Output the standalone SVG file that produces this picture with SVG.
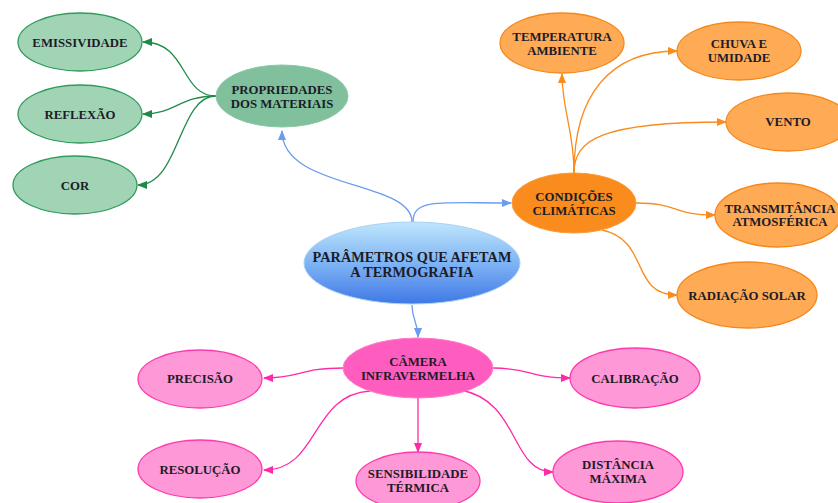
<svg xmlns="http://www.w3.org/2000/svg" width="838" height="503" viewBox="0 0 838 503">
<style>
text{font-family:"Liberation Serif","Times New Roman",serif;font-weight:bold;font-size:12.8px;fill:#1c1c28;text-anchor:middle}
text.big{font-size:14.3px}
.g{fill:#a0d4b4;stroke:#2f9a5c;stroke-width:1.3}
.gm{fill:#80c09c;stroke:#8cc8a6;stroke-width:1}
.o{fill:#ffaa55;stroke:#f5881c;stroke-width:1.3}
.om{fill:#f98c1c;stroke:#fa9a3a;stroke-width:1}
.p{fill:#ff98d6;stroke:#ff3aae;stroke-width:1.3}
.pm{fill:#ff5cc0;stroke:#ff7ccc;stroke-width:1}
.c{fill:none;stroke-width:1.3}
.cg{stroke:#1f8a48;marker-end:url(#ag)}
.cb{stroke:#6a9cf0;marker-end:url(#ab)}
.co{stroke:#f98c1c;marker-end:url(#ao)}
.cp{stroke:#ff2aa8;marker-end:url(#ap)}
</style>
<defs>
<linearGradient id="gb" x1="0" y1="0" x2="0" y2="1">
<stop offset="0" stop-color="#bfe6fc"/>
<stop offset="0.5" stop-color="#7fb4f4"/>
<stop offset="1" stop-color="#3f78e6"/>
</linearGradient>
<marker id="ag" markerWidth="10" markerHeight="8" refX="9" refY="4" orient="auto" markerUnits="userSpaceOnUse"><path d="M0,0 L10,4 L0,8 Z" fill="#1f8a48"/></marker>
<marker id="ab" markerWidth="10" markerHeight="8" refX="9" refY="4" orient="auto" markerUnits="userSpaceOnUse"><path d="M0,0 L10,4 L0,8 Z" fill="#6a9cf0"/></marker>
<marker id="ao" markerWidth="10" markerHeight="8" refX="9" refY="4" orient="auto" markerUnits="userSpaceOnUse"><path d="M0,0 L10,4 L0,8 Z" fill="#f98c1c"/></marker>
<marker id="ap" markerWidth="10" markerHeight="8" refX="9" refY="4" orient="auto" markerUnits="userSpaceOnUse"><path d="M0,0 L10,4 L0,8 Z" fill="#ff2aa8"/></marker>
</defs>
<rect width="838" height="503" fill="#ffffff"/>
<g id="connectors">
<path class="c cg" d="M216,96 C180,96 188,42 143,42"/>
<path class="c cg" d="M216,96 C180,96 175,114 143,114"/>
<path class="c cg" d="M216,96 C178,96 180,185 138,185"/>
<path class="c cb" d="M412,222 C412,180 282,190 282,131"/>
<path class="c cb" d="M413,222 C413,198 440,203 511,203"/>
<path class="c cb" d="M412,305 C412,320 418,322 418,337"/>
<path class="c co" d="M574,173 C574,130 562,110 562,74"/>
<path class="c co" d="M574,173 C574,95 610,51 677,51"/>
<path class="c co" d="M574,173 C574,140 600,122 726,122"/>
<path class="c co" d="M636,203 C680,203 670,215 715,215"/>
<path class="c co" d="M602,230 C650,240 630,295 677,295"/>
<path class="c cp" d="M343,368 C300,368 300,378 264,378"/>
<path class="c cp" d="M370,391 C310,395 320,470 264,470"/>
<path class="c cp" d="M418,398 L418,452"/>
<path class="c cp" d="M493,368 C530,368 530,378 570,378"/>
<path class="c cp" d="M460,390 C520,400 510,472 553,472"/>
</g>
<g id="central"><ellipse cx="412" cy="263" rx="108" ry="41" fill="url(#gb)" stroke="#a9d2f6" stroke-width="1"/><text class="big" x="412" y="262">PARÂMETROS QUE AFETAM</text><text class="big" x="412" y="277">A TERMOGRAFIA</text></g>
<g id="propriedades"><ellipse class="gm" cx="282" cy="96" rx="66" ry="31"/><text x="282" y="94">PROPRIEDADES</text><text x="282" y="108">DOS MATERIAIS</text></g>
<g id="emissividade"><ellipse class="g" cx="80" cy="42" rx="62" ry="29"/><text x="80" y="47">EMISSIVIDADE</text></g>
<g id="reflexao"><ellipse class="g" cx="80" cy="114" rx="62" ry="29"/><text x="80" y="119">REFLEXÃO</text></g>
<g id="cor"><ellipse class="g" cx="75" cy="185" rx="62" ry="29"/><text x="75" y="190">COR</text></g>
<g id="condicoes"><ellipse class="om" cx="574" cy="203" rx="62" ry="30"/><text x="574" y="201">CONDIÇÕES</text><text x="574" y="215">CLIMÁTICAS</text></g>
<g id="temperatura"><ellipse class="o" cx="562" cy="43" rx="62" ry="30"/><text x="562" y="41">TEMPERATURA</text><text x="562" y="55">AMBIENTE</text></g>
<g id="chuva"><ellipse class="o" cx="739" cy="51" rx="62" ry="29"/><text x="739" y="48">CHUVA E</text><text x="739" y="62">UMIDADE</text></g>
<g id="vento"><ellipse class="o" cx="788" cy="122" rx="62" ry="29"/><text x="788" y="126">VENTO</text></g>
<g id="transmitancia"><ellipse class="o" cx="778" cy="215" rx="63" ry="32"/><text x="780" y="213">TRANSMITÂNCIA</text><text x="780" y="226">ATMOSFÉRICA</text></g>
<g id="radiacao"><ellipse class="o" cx="747" cy="295" rx="70" ry="33"/><text x="747" y="300">RADIAÇÃO SOLAR</text></g>
<g id="camera"><ellipse class="pm" cx="418" cy="368" rx="75" ry="30"/><text x="418" y="366">CÂMERA</text><text x="418" y="380">INFRAVERMELHA</text></g>
<g id="precisao"><ellipse class="p" cx="200" cy="379" rx="62" ry="29"/><text x="200" y="383">PRECISÃO</text></g>
<g id="resolucao"><ellipse class="p" cx="200" cy="469" rx="62" ry="29"/><text x="200" y="474">RESOLUÇÃO</text></g>
<g id="sensibilidade"><ellipse class="p" cx="418" cy="481" rx="62" ry="29"/><text x="418" y="478">SENSIBILIDADE</text><text x="418" y="492">TÉRMICA</text></g>
<g id="calibracao"><ellipse class="p" cx="635" cy="378" rx="65" ry="30"/><text x="635" y="383">CALIBRAÇÃO</text></g>
<g id="distancia"><ellipse class="p" cx="618" cy="472" rx="65" ry="31"/><text x="618" y="469">DISTÂNCIA</text><text x="618" y="483">MÁXIMA</text></g>
</svg>
